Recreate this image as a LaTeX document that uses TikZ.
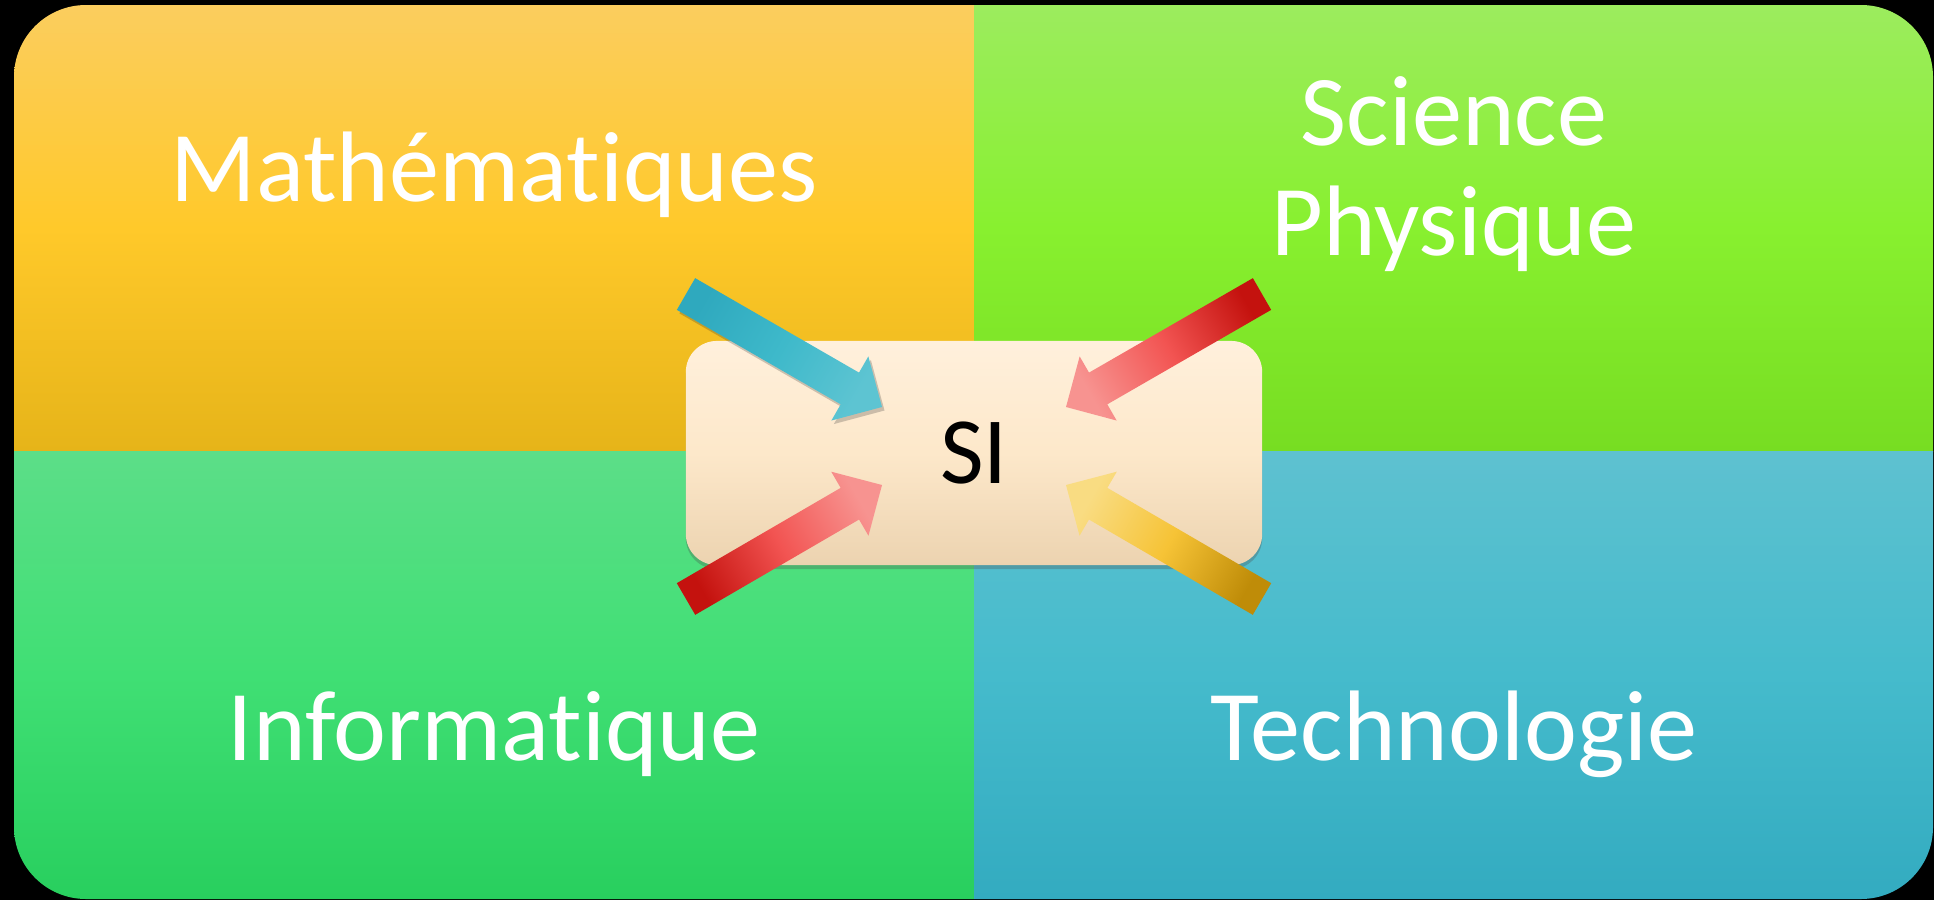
\documentclass[tikz,border=0pt]{standalone}
\usepackage{fontspec}
\setmainfont{Carlito}[Ligatures={NoCommon,NoContextual}]
\usetikzlibrary{calc, shadows}
\definecolor{mathTop}{HTML}{FBCD5E}
\definecolor{mathMid}{HTML}{FFC92A}
\definecolor{mathBot}{HTML}{E6B419}
\definecolor{sciTop}{HTML}{9CEC5E}
\definecolor{sciMid}{HTML}{88F02F}
\definecolor{sciBot}{HTML}{77DD22}
\definecolor{infoTop}{HTML}{5CDE88}
\definecolor{infoMid}{HTML}{40DF74}
\definecolor{infoBot}{HTML}{28CF5E}
\definecolor{techTop}{HTML}{5EC1D0}
\definecolor{techMid}{HTML}{45BBCC}
\definecolor{techBot}{HTML}{33ABC0}
\definecolor{siTop}{HTML}{FFF0DC}
\definecolor{siMid}{HTML}{FDE8CA}
\definecolor{siBot}{HTML}{ECD3B0}
\definecolor{blueDark}{HTML}{2FA9BE}
\definecolor{blueMid}{HTML}{3EB9CA}
\definecolor{blueLight}{HTML}{5DC4D2}
\definecolor{redDark}{HTML}{C4120E}
\definecolor{redMid}{HTML}{F25452}
\definecolor{redLight}{HTML}{F79390}
\definecolor{goldDark}{HTML}{BF8C08}
\definecolor{goldMid}{HTML}{F6C336}
\definecolor{goldLight}{HTML}{F9DC82}
% block arrow from tail #1 to tip #2
\newcommand{\arrowpath}[2]{($(#1)!0.183cm!90:(#2)$)
  -- ($(#1)!0.836!(#2)!0.183cm!90:(#2)$) -- ($(#1)!0.836!(#2)!0.37cm!90:(#2)$)
  -- (#2)
  -- ($(#1)!0.836!(#2)!0.37cm!-90:(#2)$) -- ($(#1)!0.836!(#2)!0.183cm!-90:(#2)$)
  -- ($(#1)!0.183cm!-90:(#2)$) -- cycle}

\begin{document}
\begin{tikzpicture}[
    x=0.01cm, y=-0.01cm,
    subject/.style={text=white, font=\fontsize{28.5}{31}\selectfont, align=center, inner sep=0pt},
    sibox/.style={rectangle, rounded corners=0.31cm, minimum width=5.76cm, minimum height=2.24cm,
                  inner sep=0pt, top color=siTop, bottom color=siBot, middle color=siMid,
                  font=\fontsize{27}{30}\selectfont,
                  drop shadow={shadow xshift=0cm, shadow yshift=-0.04cm, opacity=0.3, fill=black!70}},
    arrBlue/.style={top color=blueDark, bottom color=blueLight, middle color=blueMid, shading angle=60,
                    drop shadow={shadow xshift=0.025cm, shadow yshift=-0.035cm, opacity=0.25, fill=black!80}},
    arrRedA/.style={top color=redDark, bottom color=redLight, middle color=redMid, shading angle=-60},
    arrRedB/.style={top color=redDark, bottom color=redLight, middle color=redMid, shading angle=120},
    arrGold/.style={top color=goldDark, bottom color=goldLight, middle color=goldMid, shading angle=-120},
  ]
    \useasboundingbox (0,0) rectangle (1934,900);
    \fill[black] (0,0) rectangle (1934,900);

    % Quadrants
    \begin{scope}
      \clip[rounded corners=0.72cm] (14,5) rectangle (1933,899);
      \shade[top color=mathTop, bottom color=mathBot, middle color=mathMid] (14,5) rectangle (974,451);
      \shade[top color=sciTop, bottom color=sciBot, middle color=sciMid] (974,5) rectangle (1933,451);
      \shade[top color=infoTop, bottom color=infoBot, middle color=infoMid] (14,451) rectangle (974,899);
      \shade[top color=techTop, bottom color=techBot, middle color=techMid] (974,451) rectangle (1933,899);
    \end{scope}

    \node[subject, anchor=base] (math) at (494,201) {Mathématiques};
    \node[subject, anchor=base] (phys) at (1454,255) {Science\\Physique};
    \node[subject, anchor=base] (info) at (494,760) {Informatique};
    \node[subject, anchor=base] (tech) at (1454,760) {Technologie};

    % Centre
    \node[sibox] (si) at (974,453) {SI};

    % Arrows
    \coordinate (tlTail) at (686,294);
    \coordinate (tlTip)  at (882,407);
    \coordinate (trTail) at (1262,294);
    \coordinate (trTip)  at (1066,407);
    \coordinate (blTail) at (686,599);
    \coordinate (blTip)  at (882,485);
    \coordinate (brTail) at (1262,599);
    \coordinate (brTip)  at (1066,485);

    \path[arrBlue] \arrowpath{tlTail}{tlTip};
    \path[arrRedA] \arrowpath{trTail}{trTip};
    \path[arrRedB] \arrowpath{blTail}{blTip};
    \path[arrGold] \arrowpath{brTail}{brTip};
\end{tikzpicture}
\end{document}
